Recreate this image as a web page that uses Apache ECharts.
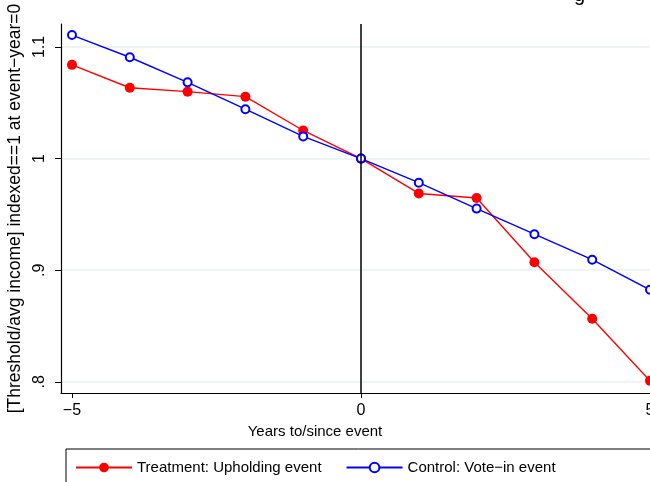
<!DOCTYPE html>
<html lang="en">
<head>
    <meta charset="UTF-8">
    <title>Threshold index</title>
    <style>
        html, body { margin: 0; padding: 0; background: #fff; }
        #main { width: 650px; height: 482px; }
    </style>
</head>
<body>
<div id="main"></div>
<script src="https://cdn.jsdelivr.net/npm/echarts@6/dist/echarts.min.js"></script>
<script>
    // data
    const years = [-5, -4, -3, -2, -1, 0, 1, 2, 3, 4, 5];
    const treatment = [1.084, 1.0635, 1.060, 1.0555, 1.0252, 1.000, 0.9688, 0.9647, 0.9071, 0.8566, 0.8010];
    const control = [1.1107, 1.0908, 1.0683, 1.0443, 1.0199, 1.000, 0.9784, 0.9552, 0.9323, 0.9094, 0.8825];
    const xTicks = [-5, 0, 5];
    const yTicks = [0.8, 0.9, 1, 1.1];

    const font = 'Liberation Sans, Arial, sans-serif';
    const minus = v => String(v).replace('-', '\u2212');
    const yFmt = v => {
        const s = String(Math.round(v * 10) / 10);
        return s.startsWith('0') ? s.slice(1) : s;
    };

    const myChart = echarts.init(document.getElementById('main'));

    const option = {
        animation: false,
        grid: {
            left: 61,
            right: -11,
            top: 24,
            bottom: 89,
            outerBoundsMode: 'none'
        },
        xAxis: {
            type: 'value',
            min: -5.19,
            max: 5.19,
            name: 'Years to/since event',
            nameLocation: 'middle',
            nameGap: 30,
            nameTextStyle: { color: '#000', fontSize: 15, fontFamily: font, padding: [0, 92, 0, 0] },
            axisLine: { lineStyle: { color: '#000', width: 1.2 } },
            axisTick: { length: 5, customValues: xTicks, lineStyle: { color: '#000' } },
            axisLabel: {
                customValues: xTicks,
                color: '#000', fontSize: 16, fontFamily: font,
                margin: 10,
                formatter: minus
            },
            splitLine: { show: false }
        },
        yAxis: {
            type: 'value',
            min: 0.79,
            max: 1.1206,
            name: '[Threshold/avg income] indexed==1 at event\u2212year=0',
            nameLocation: 'middle',
            nameGap: 34,
            nameTextStyle: { color: '#000', fontSize: 17.5, fontFamily: font },
            axisLine: { show: true, onZero: false, lineStyle: { color: '#000', width: 1.2 } },
            axisTick: { show: true, length: 6, customValues: yTicks, lineStyle: { color: '#000' } },
            axisLabel: {
                customValues: yTicks,
                rotate: 90,
                color: '#000', fontSize: 16, fontFamily: font,
                margin: 13,
                formatter: yFmt
            },
            splitLine: { show: true, lineStyle: { color: '#eaf0f2', width: 1.5 } }
        },
        legend: {
            left: 70,
            top: 455,
            itemWidth: 56,
            itemHeight: 12,
            itemGap: 24,
            textStyle: { color: '#000', fontSize: 15, fontFamily: font },
            data: ['Treatment: Upholding event', 'Control: Vote\u2212in event']
        },
        graphic: [
            {
                type: 'rect',
                shape: { x: 66, y: 449, width: 700, height: 60 },
                style: { fill: 'none', stroke: '#000', lineWidth: 1 },
                silent: true
            },
            {
                type: 'text',
                x: 574,
                y: 5,
                style: { text: 'g', fontSize: 20, fontFamily: font, fill: '#000', verticalAlign: 'bottom' },
                silent: true
            }
        ],
        series: [
            {
                name: 'Treatment: Upholding event',
                type: 'line',
                data: years.map((x, i) => [x, treatment[i]]),
                symbol: 'circle',
                symbolSize: 10,
                itemStyle: { color: '#ff0000' },
                lineStyle: { color: '#ff0000', width: 1.4 },
                markLine: {
                    silent: true,
                    symbol: 'none',
                    label: { show: false },
                    lineStyle: { color: '#000', width: 1.5, type: 'solid' },
                    data: [{ xAxis: 0 }]
                },
                z: 3
            },
            {
                name: 'Control: Vote\u2212in event',
                type: 'line',
                data: years.map((x, i) => [x, control[i]]),
                symbol: 'emptyCircle',
                symbolSize: 8,
                itemStyle: { color: '#0000ff', borderWidth: 2 },
                lineStyle: { color: '#0000ff', width: 1.4 },
                z: 4
            }
        ]
    };

    myChart.setOption(option);
</script>
</body>
</html>
